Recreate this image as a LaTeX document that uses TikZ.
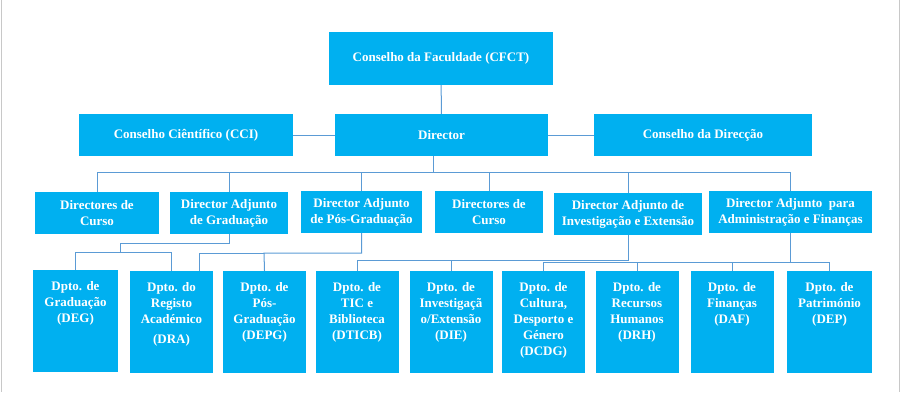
\documentclass[tikz,border=0pt]{standalone}
\usepackage{fontspec}
\setmainfont{Liberation Serif}
\usetikzlibrary{positioning}
\definecolor{orgcyan}{RGB}{0,176,240}
\definecolor{orgline}{RGB}{91,155,213}
\definecolor{orgframe}{RGB}{200,200,200}

% department boxes: text sits at the top of a fixed-height box
\newcommand{\deptlabel}[1]{\parbox[c][102pt][t]{80pt}{\centering\rule{0pt}{20pt}#1}}

\begin{document}
\begin{tikzpicture}[
  x=1pt,y=-1pt,
  box/.style={fill=orgcyan,text=white,inner sep=0pt,align=center,
              font=\bfseries\fontsize{13}{16}\selectfont},
  top/.style={box,minimum height=42pt},
  dept/.style={box,minimum width=83pt,minimum height=102pt},
  conn/.style={draw=orgline,line width=1pt}
]
  \useasboundingbox (0,0) rectangle (901,392);
  \draw[orgframe,line width=1.5pt] (1.5,0) -- (1.5,392);
  \draw[orgframe,line width=1.5pt] (899.5,0) -- (899.5,392);

  % governing bodies
  \node[box,minimum width=224pt,minimum height=53pt] (cfct) at (441,58.5) {Conselho da Faculdade (CFCT)};
  \node[top,minimum width=214pt] (cci) at (186,135)   {Conselho Ciêntífico (CCI)};
  \node[top,minimum width=213pt] (dir) at (441.5,135) {Director};
  \node[top,minimum width=218pt] (cdir) at (703,135)  {Conselho da Direcção};

  % directors
  \node[top,minimum width=124pt] (dc1) at (97,213)    {Directores de\\Curso};
  \node[top,minimum width=118pt] (dag) at (229,213)   {Director Adjunto\\de Graduação};
  \node[top,minimum width=121pt] (dapg) at (361.5,212) {Director Adjunto\\de Pós-Graduação};
  \node[top,minimum width=108pt] (dc2) at (489,212)   {Directores de\\Curso};
  \node[top,minimum width=148pt] (daie) at (628,214)  {Director Adjunto de\\Investigação e Extensão};
  \node[top,minimum width=163pt] (daaf) at (790.5,212) {Director Adjunto~ para\\Administração e Finanças};

  % departments
  \node[dept,minimum width=85pt] (deg) at (75.5,321) {\deptlabel{Dpto. de\\Graduação\\(DEG)}};
  \node[dept] (dra) at (171.5,322)   {\deptlabel{Dpto. do\\Registo\\Académico\\[4pt](DRA)}};
  \node[dept] (depg) at (264.5,322)  {\deptlabel{Dpto. de\\Pós-\\Graduação\\(DEPG)}};
  \node[dept] (dticb) at (357,322)   {\deptlabel{Dpto. de\\TIC e\\Biblioteca\\(DTICB)}};
  \node[dept] (die) at (451,322)     {\deptlabel{Dpto. de\\Investigaçã\\o/Extensão\\(DIE)}};
  \node[dept] (dcdg) at (543.5,322)  {\deptlabel{Dpto. de\\Cultura,\\Desporto e\\Género\\(DCDG)}};
  \node[dept] (drh) at (637,322)     {\deptlabel{Dpto. de\\Recursos\\Humanos\\(DRH)}};
  \node[dept] (daf) at (732,322)     {\deptlabel{Dpto. de\\Finanças\\(DAF)}};
  \node[dept,minimum width=85pt] (dep) at (829.5,322) {\deptlabel{Dpto. de\\Património\\(DEP)}};

  % bus corners
  \coordinate (hub) at (433,172);
  \coordinate (gbus) at (120,252);
  \coordinate (pgbus) at (264,253);
  \coordinate (iebus) at (451,260);
  \coordinate (afbus) at (790.5,262);

  \draw[conn] (cfct) -- (dir);
  \draw[conn] (cci) -- (dir);
  \draw[conn] (dir) -- (cdir);
  \draw[conn] (dir.south -| hub) -- (hub);
  \foreach \t in {dc1,dag,dapg,dc2,daie,daaf}
    \draw[conn] (hub) -| (\t.north);

  \draw[conn] (dag.south) -- ++(0,9) -| (gbus);
  \draw[conn] (gbus) -| (deg.north);
  \draw[conn] (gbus) -| (dra.north);

  \draw[conn] (dapg.south) |- (pgbus) -- (depg.north);
  \draw[conn] (pgbus) -| ([xshift=27.5pt]dra.north);

  \draw[conn] (daie.south) |- (iebus) -- (die.north);
  \draw[conn] (iebus) -| (dticb.north);

  \draw[conn] (daaf.south) -- (afbus);
  \foreach \t in {dcdg,drh,daf,dep}
    \draw[conn] (afbus) -| (\t.north);
\end{tikzpicture}
\end{document}
